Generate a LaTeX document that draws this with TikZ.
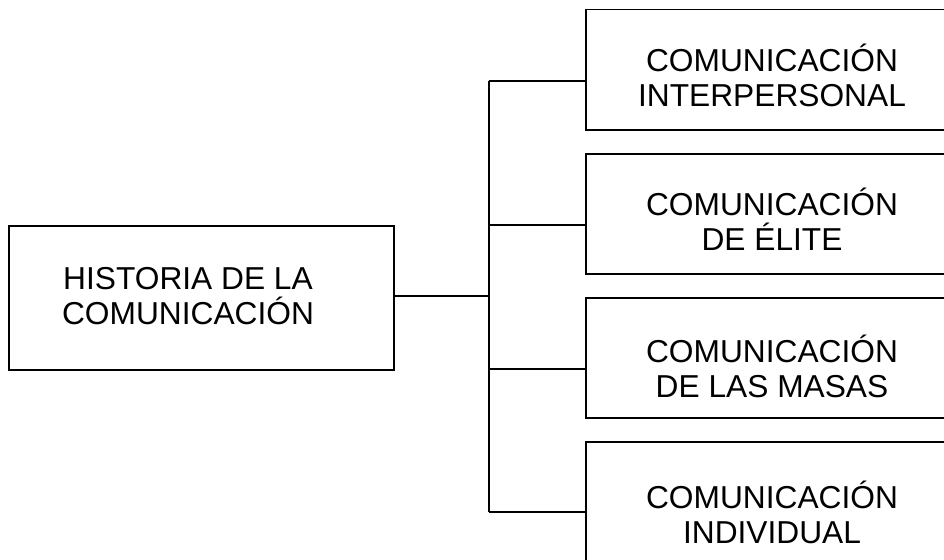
\documentclass[tikz,border=0pt]{standalone}
\usepackage{fontspec}
\setmainfont{Liberation Sans}
\begin{document}
\begin{tikzpicture}[x=1pt,y=-1pt,
  box/.style={draw=black, line width=1.8pt, rectangle, inner sep=0pt, anchor=north west},
  txt/.style={align=center, inner sep=0pt, font=\fontsize{31.7}{35}\selectfont},
  conn/.style={draw=black, line width=1.8pt}]
\useasboundingbox (0,0) rectangle (944,559);
% left box
\node[box, minimum width=385pt, minimum height=144pt] (h) at (8,225) {};
\node[txt] (ht) at (188,296) {HISTORIA DE LA\\COMUNICACIÓN};
% right boxes
\node[box, minimum width=376pt, minimum height=120pt] (b1) at (584.7,8.7) {};
\node[box, minimum width=376pt, minimum height=120pt] (b2) at (584.7,152.7) {};
\node[box, minimum width=376pt, minimum height=120pt] (b3) at (584.7,296.7) {};
\node[box, minimum width=376pt, minimum height=120pt] (b4) at (584.7,440.7) {};
\node[txt] (t1) at (772,75) {COMUNICACIÓN\\INTERPERSONAL};
\node[txt] (t2) at (772,219) {COMUNICACIÓN\\DE ÉLITE};
\node[txt] (t3) at (772,366) {COMUNICACIÓN\\DE LAS MASAS};
\node[txt] (t4) at (772,512) {COMUNICACIÓN\\INDIVIDUAL};
% connectors
\coordinate (j) at (488.7,296);
\coordinate (j1) at (488.7,80.7);
\coordinate (j2) at (488.7,225);
\coordinate (j3) at (488.7,369);
\coordinate (j4) at (488.7,511.7);
\draw[conn] (h.east |- j) -- (j);
\draw[conn] (j1) -- (j4);
\draw[conn] (j1) -- (j1 -| b1.west);
\draw[conn] (j2) -- (j2 -| b2.west);
\draw[conn] (j3) -- (j3 -| b3.west);
\draw[conn] (j4) -- (j4 -| b4.west);
\end{tikzpicture}
\end{document}
